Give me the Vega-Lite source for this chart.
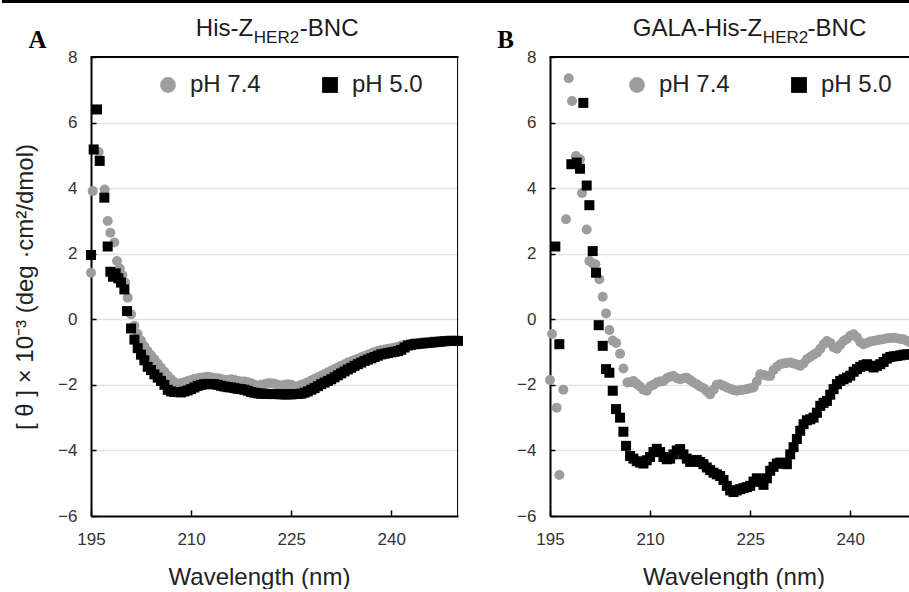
{
  "$schema": "https://vega.github.io/schema/vega-lite/v6.json",
  "background": "white",
  "padding": 0,
  "bounds": "flush",
  "spacing": 92,
  "config": {
    "view": {"stroke": null},
    "font": "Liberation Sans",
    "axis": {
      "domainColor": "black", "domainWidth": 2,
      "tickColor": "black", "tickWidth": 1.5,
      "labelFont": "Liberation Sans Narrow, Liberation Sans", "labelFontSize": 17, "labelColor": "#333333",
      "labelFlush": false,
      "titleFont": "Liberation Sans", "titleFontSize": 24, "titleFontWeight": "normal", "titleColor": "#222222"
    },
    "axisX": {"labelPadding": 21, "titlePadding": 18, "grid": false, "tickSize": -6},
    "axisY": {"labelPadding": 19, "titlePadding": 20, "gridWidth": 1.5, "tickSize": -5},
    "legend": {
      "orient": "none", "direction": "horizontal", "title": null,
      "labelFont": "Liberation Sans", "labelFontSize": 24, "labelColor": "#222222",
      "symbolSize": 250, "labelOffset": 10, "columnPadding": 57, "symbolOpacity": 1, "symbolStrokeWidth": 0
    }
  },
  "resolve": {"scale": {"color": "independent", "shape": "independent"}},
  "datasets": {
    "A": [
      {"s":"pH 7.4","w":195.0,"v":1.42},{"s":"pH 7.4","w":195.25,"v":3.91},{"s":"pH 7.4","w":196.15,"v":5.1},{"s":"pH 7.4","w":197.05,"v":3.96},{"s":"pH 7.4","w":197.5,"v":3.0},{"s":"pH 7.4","w":197.9,"v":2.64},{"s":"pH 7.4","w":198.5,"v":2.34},{"s":"pH 7.4","w":198.9,"v":1.78},{"s":"pH 7.4","w":199.3,"v":1.55},{"s":"pH 7.4","w":199.7,"v":1.35},{"s":"pH 7.4","w":200.1,"v":1.12},{"s":"pH 7.4","w":200.5,"v":0.66},
      {"s":"pH 7.4","w":201.0,"v":0.15},{"s":"pH 7.4","w":201.5,"v":-0.2},{"s":"pH 7.4","w":202.0,"v":-0.45},{"s":"pH 7.4","w":202.5,"v":-0.65},{"s":"pH 7.4","w":203.0,"v":-0.82},{"s":"pH 7.4","w":203.5,"v":-0.97},{"s":"pH 7.4","w":204.0,"v":-1.1},{"s":"pH 7.4","w":204.5,"v":-1.22},{"s":"pH 7.4","w":205.0,"v":-1.35},{"s":"pH 7.4","w":205.5,"v":-1.48},{"s":"pH 7.4","w":206.0,"v":-1.6},{"s":"pH 7.4","w":206.5,"v":-1.72},{"s":"pH 7.4","w":207.0,"v":-1.83},{"s":"pH 7.4","w":207.5,"v":-1.92},{"s":"pH 7.4","w":208.0,"v":-1.97},{"s":"pH 7.4","w":208.5,"v":-1.95},{"s":"pH 7.4","w":209.0,"v":-1.92},{"s":"pH 7.4","w":209.5,"v":-1.88},{"s":"pH 7.4","w":210.0,"v":-1.85},
      {"s":"pH 7.4","w":210.5,"v":-1.82},{"s":"pH 7.4","w":211.0,"v":-1.8},{"s":"pH 7.4","w":211.5,"v":-1.78},{"s":"pH 7.4","w":212.0,"v":-1.77},{"s":"pH 7.4","w":212.5,"v":-1.75},{"s":"pH 7.4","w":213.0,"v":-1.77},{"s":"pH 7.4","w":213.5,"v":-1.8},{"s":"pH 7.4","w":214.0,"v":-1.8},{"s":"pH 7.4","w":214.5,"v":-1.82},{"s":"pH 7.4","w":215.0,"v":-1.85},{"s":"pH 7.4","w":215.5,"v":-1.85},{"s":"pH 7.4","w":216.0,"v":-1.83},{"s":"pH 7.4","w":216.5,"v":-1.85},{"s":"pH 7.4","w":217.0,"v":-1.88},{"s":"pH 7.4","w":217.5,"v":-1.9},{"s":"pH 7.4","w":218.0,"v":-1.9},{"s":"pH 7.4","w":218.5,"v":-1.92},{"s":"pH 7.4","w":219.0,"v":-1.95},{"s":"pH 7.4","w":219.5,"v":-2.0},{"s":"pH 7.4","w":220.0,"v":-2.03},
      {"s":"pH 7.4","w":220.5,"v":-2.0},{"s":"pH 7.4","w":221.0,"v":-1.98},{"s":"pH 7.4","w":221.5,"v":-1.95},{"s":"pH 7.4","w":222.0,"v":-1.95},{"s":"pH 7.4","w":222.5,"v":-1.97},{"s":"pH 7.4","w":223.0,"v":-2.0},{"s":"pH 7.4","w":223.5,"v":-2.02},{"s":"pH 7.4","w":224.0,"v":-2.0},{"s":"pH 7.4","w":224.5,"v":-1.98},{"s":"pH 7.4","w":225.0,"v":-2.0},{"s":"pH 7.4","w":225.5,"v":-2.05},{"s":"pH 7.4","w":226.0,"v":-2.05},{"s":"pH 7.4","w":226.5,"v":-2.0},{"s":"pH 7.4","w":227.0,"v":-1.97},{"s":"pH 7.4","w":227.5,"v":-1.92},{"s":"pH 7.4","w":228.0,"v":-1.87},{"s":"pH 7.4","w":228.5,"v":-1.82},{"s":"pH 7.4","w":229.0,"v":-1.77},{"s":"pH 7.4","w":229.5,"v":-1.72},{"s":"pH 7.4","w":230.0,"v":-1.67},
      {"s":"pH 7.4","w":230.5,"v":-1.62},{"s":"pH 7.4","w":231.0,"v":-1.57},{"s":"pH 7.4","w":231.5,"v":-1.52},{"s":"pH 7.4","w":232.0,"v":-1.47},{"s":"pH 7.4","w":232.5,"v":-1.42},{"s":"pH 7.4","w":233.0,"v":-1.37},{"s":"pH 7.4","w":233.5,"v":-1.32},{"s":"pH 7.4","w":234.0,"v":-1.28},{"s":"pH 7.4","w":234.5,"v":-1.24},{"s":"pH 7.4","w":235.0,"v":-1.2},{"s":"pH 7.4","w":235.5,"v":-1.16},{"s":"pH 7.4","w":236.0,"v":-1.12},{"s":"pH 7.4","w":236.5,"v":-1.08},{"s":"pH 7.4","w":237.0,"v":-1.04},{"s":"pH 7.4","w":237.5,"v":-1.0},{"s":"pH 7.4","w":238.0,"v":-0.97},{"s":"pH 7.4","w":238.5,"v":-0.94},{"s":"pH 7.4","w":239.0,"v":-0.92},{"s":"pH 7.4","w":239.5,"v":-0.9},{"s":"pH 7.4","w":240.0,"v":-0.88},
      {"s":"pH 7.4","w":240.5,"v":-0.86},{"s":"pH 7.4","w":241.0,"v":-0.84},{"s":"pH 7.4","w":241.5,"v":-0.81},{"s":"pH 7.4","w":242.0,"v":-0.78},{"s":"pH 7.4","w":242.5,"v":-0.76},{"s":"pH 7.4","w":243.0,"v":-0.74},{"s":"pH 7.4","w":243.5,"v":-0.73},{"s":"pH 7.4","w":244.0,"v":-0.72},{"s":"pH 7.4","w":244.5,"v":-0.71},{"s":"pH 7.4","w":245.0,"v":-0.7},{"s":"pH 7.4","w":245.5,"v":-0.69},{"s":"pH 7.4","w":246.0,"v":-0.68},{"s":"pH 7.4","w":246.5,"v":-0.68},{"s":"pH 7.4","w":247.0,"v":-0.67},{"s":"pH 7.4","w":247.5,"v":-0.66},{"s":"pH 7.4","w":248.0,"v":-0.66},{"s":"pH 7.4","w":248.5,"v":-0.65},{"s":"pH 7.4","w":249.0,"v":-0.65},{"s":"pH 7.4","w":249.5,"v":-0.65},{"s":"pH 7.4","w":250.0,"v":-0.65},
      {"s":"pH 5.0","w":195.0,"v":1.96},{"s":"pH 5.0","w":195.4,"v":5.18},{"s":"pH 5.0","w":195.9,"v":6.4},{"s":"pH 5.0","w":196.3,"v":4.83},{"s":"pH 5.0","w":197.0,"v":3.71},{"s":"pH 5.0","w":197.5,"v":2.22},{"s":"pH 5.0","w":197.9,"v":1.45},{"s":"pH 5.0","w":198.3,"v":1.3},{"s":"pH 5.0","w":198.7,"v":1.4},{"s":"pH 5.0","w":199.1,"v":1.25},{"s":"pH 5.0","w":199.5,"v":1.12},{"s":"pH 5.0","w":200.0,"v":0.91},{"s":"pH 5.0","w":200.4,"v":0.25},
      {"s":"pH 5.0","w":201.0,"v":-0.28},{"s":"pH 5.0","w":201.5,"v":-0.62},{"s":"pH 5.0","w":202.0,"v":-0.88},{"s":"pH 5.0","w":202.5,"v":-1.08},{"s":"pH 5.0","w":203.0,"v":-1.25},{"s":"pH 5.0","w":203.5,"v":-1.45},{"s":"pH 5.0","w":204.0,"v":-1.55},{"s":"pH 5.0","w":204.5,"v":-1.68},{"s":"pH 5.0","w":205.0,"v":-1.78},{"s":"pH 5.0","w":205.5,"v":-1.88},{"s":"pH 5.0","w":206.0,"v":-2.0},{"s":"pH 5.0","w":206.5,"v":-2.15},{"s":"pH 5.0","w":207.0,"v":-2.2},{"s":"pH 5.0","w":207.5,"v":-2.22},{"s":"pH 5.0","w":208.0,"v":-2.22},{"s":"pH 5.0","w":208.5,"v":-2.23},{"s":"pH 5.0","w":209.0,"v":-2.2},{"s":"pH 5.0","w":209.5,"v":-2.17},{"s":"pH 5.0","w":210.0,"v":-2.13},
      {"s":"pH 5.0","w":210.5,"v":-2.08},{"s":"pH 5.0","w":211.0,"v":-2.03},{"s":"pH 5.0","w":211.5,"v":-2.0},{"s":"pH 5.0","w":212.0,"v":-1.98},{"s":"pH 5.0","w":212.5,"v":-1.97},{"s":"pH 5.0","w":213.0,"v":-1.98},{"s":"pH 5.0","w":213.5,"v":-1.98},{"s":"pH 5.0","w":214.0,"v":-2.0},{"s":"pH 5.0","w":214.5,"v":-2.03},{"s":"pH 5.0","w":215.0,"v":-2.05},{"s":"pH 5.0","w":215.5,"v":-2.07},{"s":"pH 5.0","w":216.0,"v":-2.08},{"s":"pH 5.0","w":216.5,"v":-2.1},{"s":"pH 5.0","w":217.0,"v":-2.12},{"s":"pH 5.0","w":217.5,"v":-2.13},{"s":"pH 5.0","w":218.0,"v":-2.15},{"s":"pH 5.0","w":218.5,"v":-2.18},{"s":"pH 5.0","w":219.0,"v":-2.22},{"s":"pH 5.0","w":219.5,"v":-2.24},{"s":"pH 5.0","w":220.0,"v":-2.26},
      {"s":"pH 5.0","w":220.5,"v":-2.27},{"s":"pH 5.0","w":221.0,"v":-2.27},{"s":"pH 5.0","w":221.5,"v":-2.28},{"s":"pH 5.0","w":222.0,"v":-2.28},{"s":"pH 5.0","w":222.5,"v":-2.28},{"s":"pH 5.0","w":223.0,"v":-2.28},{"s":"pH 5.0","w":223.5,"v":-2.29},{"s":"pH 5.0","w":224.0,"v":-2.29},{"s":"pH 5.0","w":224.5,"v":-2.29},{"s":"pH 5.0","w":225.0,"v":-2.29},{"s":"pH 5.0","w":225.5,"v":-2.28},{"s":"pH 5.0","w":226.0,"v":-2.28},{"s":"pH 5.0","w":226.5,"v":-2.27},{"s":"pH 5.0","w":227.0,"v":-2.24},{"s":"pH 5.0","w":227.5,"v":-2.2},{"s":"pH 5.0","w":228.0,"v":-2.15},{"s":"pH 5.0","w":228.5,"v":-2.1},{"s":"pH 5.0","w":229.0,"v":-2.04},{"s":"pH 5.0","w":229.5,"v":-1.98},{"s":"pH 5.0","w":230.0,"v":-1.93},
      {"s":"pH 5.0","w":230.5,"v":-1.88},{"s":"pH 5.0","w":231.0,"v":-1.83},{"s":"pH 5.0","w":231.5,"v":-1.77},{"s":"pH 5.0","w":232.0,"v":-1.71},{"s":"pH 5.0","w":232.5,"v":-1.65},{"s":"pH 5.0","w":233.0,"v":-1.59},{"s":"pH 5.0","w":233.5,"v":-1.53},{"s":"pH 5.0","w":234.0,"v":-1.48},{"s":"pH 5.0","w":234.5,"v":-1.42},{"s":"pH 5.0","w":235.0,"v":-1.37},{"s":"pH 5.0","w":235.5,"v":-1.32},{"s":"pH 5.0","w":236.0,"v":-1.27},{"s":"pH 5.0","w":236.5,"v":-1.23},{"s":"pH 5.0","w":237.0,"v":-1.19},{"s":"pH 5.0","w":237.5,"v":-1.15},{"s":"pH 5.0","w":238.0,"v":-1.11},{"s":"pH 5.0","w":238.5,"v":-1.07},{"s":"pH 5.0","w":239.0,"v":-1.05},{"s":"pH 5.0","w":239.5,"v":-1.03},{"s":"pH 5.0","w":240.0,"v":-1.01},
      {"s":"pH 5.0","w":240.5,"v":-0.99},{"s":"pH 5.0","w":241.0,"v":-0.97},{"s":"pH 5.0","w":241.5,"v":-0.93},{"s":"pH 5.0","w":242.0,"v":-0.86},{"s":"pH 5.0","w":242.5,"v":-0.8},{"s":"pH 5.0","w":243.0,"v":-0.78},{"s":"pH 5.0","w":243.5,"v":-0.76},{"s":"pH 5.0","w":244.0,"v":-0.75},{"s":"pH 5.0","w":244.5,"v":-0.74},{"s":"pH 5.0","w":245.0,"v":-0.73},{"s":"pH 5.0","w":245.5,"v":-0.72},{"s":"pH 5.0","w":246.0,"v":-0.71},{"s":"pH 5.0","w":246.5,"v":-0.7},{"s":"pH 5.0","w":247.0,"v":-0.69},{"s":"pH 5.0","w":247.5,"v":-0.68},{"s":"pH 5.0","w":248.0,"v":-0.67},{"s":"pH 5.0","w":248.5,"v":-0.66},{"s":"pH 5.0","w":249.0,"v":-0.66},{"s":"pH 5.0","w":249.5,"v":-0.66},{"s":"pH 5.0","w":250.0,"v":-0.66}
    ],
    "B": [
      {"s":"pH 7.4","w":195.0,"v":-1.85},{"s":"pH 7.4","w":195.3,"v":-0.45},{"s":"pH 7.4","w":196.0,"v":-2.7},{"s":"pH 7.4","w":196.4,"v":-4.75},{"s":"pH 7.4","w":197.0,"v":-2.15},{"s":"pH 7.4","w":197.4,"v":3.05},{"s":"pH 7.4","w":197.8,"v":7.35},{"s":"pH 7.4","w":198.3,"v":6.66},{"s":"pH 7.4","w":198.9,"v":4.98},{"s":"pH 7.4","w":199.5,"v":4.88},{"s":"pH 7.4","w":199.8,"v":3.85},{"s":"pH 7.4","w":200.5,"v":2.74},{"s":"pH 7.4","w":200.9,"v":1.78},{"s":"pH 7.4","w":201.4,"v":1.7},{"s":"pH 7.4","w":201.8,"v":1.68},{"s":"pH 7.4","w":202.4,"v":1.22},{"s":"pH 7.4","w":202.9,"v":0.69},{"s":"pH 7.4","w":203.4,"v":0.18},{"s":"pH 7.4","w":203.9,"v":-0.33},{"s":"pH 7.4","w":204.4,"v":-0.65},{"s":"pH 7.4","w":204.9,"v":-0.72},{"s":"pH 7.4","w":205.5,"v":-1.05},{"s":"pH 7.4","w":206.0,"v":-1.5},{"s":"pH 7.4","w":206.6,"v":-1.93},
      {"s":"pH 7.4","w":207.0,"v":-1.92},{"s":"pH 7.4","w":207.5,"v":-1.88},{"s":"pH 7.4","w":208.0,"v":-1.97},{"s":"pH 7.4","w":208.5,"v":-2.05},{"s":"pH 7.4","w":209.0,"v":-2.15},{"s":"pH 7.4","w":209.5,"v":-2.18},{"s":"pH 7.4","w":210.0,"v":-2.05},{"s":"pH 7.4","w":210.5,"v":-2.0},{"s":"pH 7.4","w":211.0,"v":-1.93},{"s":"pH 7.4","w":211.5,"v":-1.9},{"s":"pH 7.4","w":212.0,"v":-1.88},{"s":"pH 7.4","w":212.5,"v":-1.8},{"s":"pH 7.4","w":213.0,"v":-1.75},{"s":"pH 7.4","w":213.5,"v":-1.73},{"s":"pH 7.4","w":214.0,"v":-1.8},{"s":"pH 7.4","w":214.5,"v":-1.83},{"s":"pH 7.4","w":215.0,"v":-1.8},{"s":"pH 7.4","w":215.5,"v":-1.78},{"s":"pH 7.4","w":216.0,"v":-1.85},{"s":"pH 7.4","w":216.5,"v":-1.93},{"s":"pH 7.4","w":217.0,"v":-1.98},{"s":"pH 7.4","w":217.5,"v":-2.05},{"s":"pH 7.4","w":218.0,"v":-2.1},{"s":"pH 7.4","w":218.5,"v":-2.2},{"s":"pH 7.4","w":219.0,"v":-2.29},{"s":"pH 7.4","w":219.5,"v":-2.15},{"s":"pH 7.4","w":220.0,"v":-2.0},
      {"s":"pH 7.4","w":220.5,"v":-1.98},{"s":"pH 7.4","w":221.0,"v":-2.03},{"s":"pH 7.4","w":221.5,"v":-2.08},{"s":"pH 7.4","w":222.0,"v":-2.12},{"s":"pH 7.4","w":222.5,"v":-2.16},{"s":"pH 7.4","w":223.0,"v":-2.18},{"s":"pH 7.4","w":223.5,"v":-2.16},{"s":"pH 7.4","w":224.0,"v":-2.15},{"s":"pH 7.4","w":224.5,"v":-2.13},{"s":"pH 7.4","w":225.0,"v":-2.1},{"s":"pH 7.4","w":225.5,"v":-2.08},{"s":"pH 7.4","w":226.0,"v":-1.9},{"s":"pH 7.4","w":226.5,"v":-1.68},{"s":"pH 7.4","w":227.0,"v":-1.7},{"s":"pH 7.4","w":227.5,"v":-1.72},{"s":"pH 7.4","w":228.0,"v":-1.73},{"s":"pH 7.4","w":228.5,"v":-1.55},{"s":"pH 7.4","w":229.0,"v":-1.45},{"s":"pH 7.4","w":229.5,"v":-1.37},{"s":"pH 7.4","w":230.0,"v":-1.35},
      {"s":"pH 7.4","w":230.5,"v":-1.33},{"s":"pH 7.4","w":231.0,"v":-1.32},{"s":"pH 7.4","w":231.5,"v":-1.35},{"s":"pH 7.4","w":232.0,"v":-1.38},{"s":"pH 7.4","w":232.5,"v":-1.42},{"s":"pH 7.4","w":233.0,"v":-1.35},{"s":"pH 7.4","w":233.5,"v":-1.22},{"s":"pH 7.4","w":234.0,"v":-1.15},{"s":"pH 7.4","w":234.5,"v":-1.08},{"s":"pH 7.4","w":235.0,"v":-1.02},{"s":"pH 7.4","w":235.5,"v":-0.9},{"s":"pH 7.4","w":236.0,"v":-0.76},{"s":"pH 7.4","w":236.5,"v":-0.66},{"s":"pH 7.4","w":237.0,"v":-0.72},{"s":"pH 7.4","w":237.5,"v":-0.85},{"s":"pH 7.4","w":238.0,"v":-0.9},{"s":"pH 7.4","w":238.5,"v":-0.78},{"s":"pH 7.4","w":239.0,"v":-0.66},{"s":"pH 7.4","w":239.5,"v":-0.6},{"s":"pH 7.4","w":240.0,"v":-0.5},
      {"s":"pH 7.4","w":240.5,"v":-0.46},{"s":"pH 7.4","w":241.0,"v":-0.55},{"s":"pH 7.4","w":241.5,"v":-0.7},{"s":"pH 7.4","w":242.0,"v":-0.76},{"s":"pH 7.4","w":242.5,"v":-0.72},{"s":"pH 7.4","w":243.0,"v":-0.68},{"s":"pH 7.4","w":243.5,"v":-0.66},{"s":"pH 7.4","w":244.0,"v":-0.64},{"s":"pH 7.4","w":244.5,"v":-0.62},{"s":"pH 7.4","w":245.0,"v":-0.61},{"s":"pH 7.4","w":245.5,"v":-0.58},{"s":"pH 7.4","w":246.0,"v":-0.57},{"s":"pH 7.4","w":246.5,"v":-0.56},{"s":"pH 7.4","w":247.0,"v":-0.58},{"s":"pH 7.4","w":247.5,"v":-0.6},{"s":"pH 7.4","w":248.0,"v":-0.61},{"s":"pH 7.4","w":248.5,"v":-0.66},{"s":"pH 7.4","w":249.0,"v":-0.71},{"s":"pH 7.4","w":249.5,"v":-0.74},{"s":"pH 7.4","w":250.0,"v":-0.76},
      {"s":"pH 5.0","w":195.8,"v":2.22},{"s":"pH 5.0","w":196.4,"v":-0.76},{"s":"pH 5.0","w":198.2,"v":4.73},{"s":"pH 5.0","w":199.0,"v":4.78},{"s":"pH 5.0","w":199.5,"v":4.59},{"s":"pH 5.0","w":200.0,"v":6.6},{"s":"pH 5.0","w":200.5,"v":4.08},{"s":"pH 5.0","w":200.9,"v":3.48},{"s":"pH 5.0","w":201.4,"v":2.08},{"s":"pH 5.0","w":201.9,"v":1.42},{"s":"pH 5.0","w":202.3,"v":-0.18},{"s":"pH 5.0","w":202.9,"v":-0.81},{"s":"pH 5.0","w":203.4,"v":-1.52},{"s":"pH 5.0","w":203.9,"v":-1.63},{"s":"pH 5.0","w":204.4,"v":-2.18},{"s":"pH 5.0","w":204.9,"v":-2.74},{"s":"pH 5.0","w":205.5,"v":-3.0},{"s":"pH 5.0","w":206.0,"v":-3.43},{"s":"pH 5.0","w":206.4,"v":-3.86},{"s":"pH 5.0","w":207.0,"v":-4.17},{"s":"pH 5.0","w":207.5,"v":-4.25},{"s":"pH 5.0","w":208.0,"v":-4.33},{"s":"pH 5.0","w":208.5,"v":-4.37},{"s":"pH 5.0","w":209.0,"v":-4.4},{"s":"pH 5.0","w":209.5,"v":-4.3},{"s":"pH 5.0","w":210.0,"v":-4.2},
      {"s":"pH 5.0","w":210.5,"v":-4.05},{"s":"pH 5.0","w":211.0,"v":-3.95},{"s":"pH 5.0","w":211.5,"v":-4.05},{"s":"pH 5.0","w":212.0,"v":-4.2},{"s":"pH 5.0","w":212.5,"v":-4.27},{"s":"pH 5.0","w":213.0,"v":-4.25},{"s":"pH 5.0","w":213.5,"v":-4.12},{"s":"pH 5.0","w":214.0,"v":-4.0},{"s":"pH 5.0","w":214.5,"v":-3.96},{"s":"pH 5.0","w":215.0,"v":-4.12},{"s":"pH 5.0","w":215.5,"v":-4.25},{"s":"pH 5.0","w":216.0,"v":-4.35},{"s":"pH 5.0","w":216.5,"v":-4.33},{"s":"pH 5.0","w":217.0,"v":-4.29},{"s":"pH 5.0","w":217.5,"v":-4.35},{"s":"pH 5.0","w":218.0,"v":-4.42},{"s":"pH 5.0","w":218.5,"v":-4.52},{"s":"pH 5.0","w":219.0,"v":-4.6},{"s":"pH 5.0","w":219.5,"v":-4.68},{"s":"pH 5.0","w":220.0,"v":-4.73},
      {"s":"pH 5.0","w":220.5,"v":-4.78},{"s":"pH 5.0","w":221.0,"v":-4.9},{"s":"pH 5.0","w":221.5,"v":-5.08},{"s":"pH 5.0","w":222.0,"v":-5.22},{"s":"pH 5.0","w":222.5,"v":-5.27},{"s":"pH 5.0","w":223.0,"v":-5.22},{"s":"pH 5.0","w":223.5,"v":-5.18},{"s":"pH 5.0","w":224.0,"v":-5.15},{"s":"pH 5.0","w":224.5,"v":-5.12},{"s":"pH 5.0","w":225.0,"v":-5.08},{"s":"pH 5.0","w":225.5,"v":-4.95},{"s":"pH 5.0","w":226.0,"v":-4.85},{"s":"pH 5.0","w":226.5,"v":-4.95},{"s":"pH 5.0","w":227.0,"v":-5.05},{"s":"pH 5.0","w":227.5,"v":-4.85},{"s":"pH 5.0","w":228.0,"v":-4.62},{"s":"pH 5.0","w":228.5,"v":-4.5},{"s":"pH 5.0","w":229.0,"v":-4.4},{"s":"pH 5.0","w":229.5,"v":-4.37},{"s":"pH 5.0","w":230.0,"v":-4.4},
      {"s":"pH 5.0","w":230.5,"v":-4.42},{"s":"pH 5.0","w":231.0,"v":-4.12},{"s":"pH 5.0","w":231.5,"v":-3.9},{"s":"pH 5.0","w":232.0,"v":-3.65},{"s":"pH 5.0","w":232.5,"v":-3.4},{"s":"pH 5.0","w":233.0,"v":-3.2},{"s":"pH 5.0","w":233.5,"v":-3.08},{"s":"pH 5.0","w":234.0,"v":-3.05},{"s":"pH 5.0","w":234.5,"v":-3.0},{"s":"pH 5.0","w":235.0,"v":-2.85},{"s":"pH 5.0","w":235.5,"v":-2.64},{"s":"pH 5.0","w":236.0,"v":-2.55},{"s":"pH 5.0","w":236.5,"v":-2.49},{"s":"pH 5.0","w":237.0,"v":-2.3},{"s":"pH 5.0","w":237.5,"v":-2.13},{"s":"pH 5.0","w":238.0,"v":-1.98},{"s":"pH 5.0","w":238.5,"v":-1.88},{"s":"pH 5.0","w":239.0,"v":-1.83},{"s":"pH 5.0","w":239.5,"v":-1.78},{"s":"pH 5.0","w":240.0,"v":-1.72},
      {"s":"pH 5.0","w":240.5,"v":-1.6},{"s":"pH 5.0","w":241.0,"v":-1.52},{"s":"pH 5.0","w":241.5,"v":-1.45},{"s":"pH 5.0","w":242.0,"v":-1.4},{"s":"pH 5.0","w":242.5,"v":-1.37},{"s":"pH 5.0","w":243.0,"v":-1.42},{"s":"pH 5.0","w":243.5,"v":-1.47},{"s":"pH 5.0","w":244.0,"v":-1.42},{"s":"pH 5.0","w":244.5,"v":-1.37},{"s":"pH 5.0","w":245.0,"v":-1.3},{"s":"pH 5.0","w":245.5,"v":-1.2},{"s":"pH 5.0","w":246.0,"v":-1.15},{"s":"pH 5.0","w":246.5,"v":-1.13},{"s":"pH 5.0","w":247.0,"v":-1.12},{"s":"pH 5.0","w":247.5,"v":-1.1},{"s":"pH 5.0","w":248.0,"v":-1.08},{"s":"pH 5.0","w":248.5,"v":-1.07},{"s":"pH 5.0","w":249.0,"v":-1.07},{"s":"pH 5.0","w":249.5,"v":-1.05},{"s":"pH 5.0","w":250.0,"v":-1.05}
    ]
  },
  "hconcat": [
    {
      "width": 367, "height": 459,
      "layer": [
        {
          "data": {"name": "A"},
          "mark": {"type": "point", "filled": true, "opacity": 1, "size": 100, "clip": false},
          "encoding": {
            "x": {"field": "w", "type": "quantitative", "scale": {"domain": [195, 250], "nice": false, "zero": false},
                  "axis": {"values": [195, 210, 225, 240], "title": "Wavelength (nm)", "titleX": 168}},
            "y": {"field": "v", "type": "quantitative", "scale": {"domain": [-6, 8], "nice": false, "zero": false},
                  "axis": {"values": [-6, -4, -2, 0, 2, 4, 6, 8], "title": "[ θ ] × 10⁻³ (deg ·cm²/dmol)",
                           "gridColor": {"condition": {"test": "datum.value === 8 || datum.value === -6", "value": "transparent"}, "value": "#e2e2e2"}}},
            "color": {"field": "s", "type": "nominal", "scale": {"domain": ["pH 7.4", "pH 5.0"], "range": ["#9d9d9d", "#000000"]},
                      "legend": {"legendX": 65, "legendY": 16}},
            "shape": {"field": "s", "type": "nominal", "scale": {"domain": ["pH 7.4", "pH 5.0"], "range": ["circle", "square"]},
                      "legend": {"legendX": 65, "legendY": 16}}
          }
        },
        {
          "data": {"values": [{"t": "A"}]},
          "mark": {"type": "text", "font": "Liberation Serif", "fontWeight": "bold", "fontSize": 25, "align": "center", "baseline": "alphabetic", "color": "black"},
          "encoding": {"x": {"datum": 187.0}, "y": {"datum": 8.27}, "text": {"field": "t"}}
        },
        {
          "data": {"values": [{"t": "His-Z"}]},
          "mark": {"type": "text", "fontSize": 24, "align": "right", "baseline": "alphabetic", "color": "#1a1a1a"},
          "encoding": {"x": {"datum": 219.3}, "y": {"datum": 8.64}, "text": {"field": "t"}}
        },
        {
          "data": {"values": [{"t": "HER2"}]},
          "mark": {"type": "text", "fontSize": 17, "align": "left", "baseline": "alphabetic", "color": "#1a1a1a"},
          "encoding": {"x": {"datum": 219.4}, "y": {"datum": 8.43}, "text": {"field": "t"}}
        },
        {
          "data": {"values": [{"t": "-BNC"}]},
          "mark": {"type": "text", "fontSize": 24, "align": "left", "baseline": "alphabetic", "color": "#1a1a1a"},
          "encoding": {"x": {"datum": 226.3}, "y": {"datum": 8.64}, "text": {"field": "t"}}
        },
        {
          "data": {"values": [{"edge": "top"}]},
          "mark": {"type": "bar", "color": "black", "clip": false},
          "encoding": {"x": {"datum": 194.93}, "x2": {"datum": 250.07}, "y": {"datum": 7.97}, "y2": {"datum": 8.03}}
        },
        {
          "data": {"values": [{"edge": "right"}]},
          "mark": {"type": "bar", "color": "black", "clip": false},
          "encoding": {"x": {"datum": 249.86}, "x2": {"datum": 250.01}, "y": {"datum": -6.03}, "y2": {"datum": 8.03}}
        },
        {
          "data": {"values": [{}]},
          "mark": {"type": "rule", "strokeWidth": 3, "color": "black", "clip": false},
          "encoding": {"x": {"datum": 181.66}, "x2": {"datum": 250}, "y": {"datum": 9.69}}
        }
      ]
    },
    {
      "width": 367, "height": 459,
      "layer": [
        {
          "data": {"name": "B"},
          "mark": {"type": "point", "filled": true, "opacity": 1, "size": 100, "clip": false},
          "encoding": {
            "x": {"field": "w", "type": "quantitative", "scale": {"domain": [195, 250], "nice": false, "zero": false},
                  "axis": {"values": [195, 210, 225, 240], "title": "Wavelength (nm)"}},
            "y": {"field": "v", "type": "quantitative", "scale": {"domain": [-6, 8], "nice": false, "zero": false},
                  "axis": {"values": [-6, -4, -2, 0, 2, 4, 6, 8], "title": null,
                           "gridColor": {"condition": {"test": "datum.value === 8 || datum.value === -6", "value": "transparent"}, "value": "#e2e2e2"}}},
            "color": {"field": "s", "type": "nominal", "scale": {"domain": ["pH 7.4", "pH 5.0"], "range": ["#9d9d9d", "#000000"]},
                      "legend": {"legendX": 75, "legendY": 16}},
            "shape": {"field": "s", "type": "nominal", "scale": {"domain": ["pH 7.4", "pH 5.0"], "range": ["circle", "square"]},
                      "legend": {"legendX": 75, "legendY": 16}}
          }
        },
        {
          "data": {"values": [{"t": "B"}]},
          "mark": {"type": "text", "font": "Liberation Serif", "fontWeight": "bold", "fontSize": 25, "align": "center", "baseline": "alphabetic", "color": "black"},
          "encoding": {"x": {"datum": 188.36}, "y": {"datum": 8.27}, "text": {"field": "t"}}
        },
        {
          "data": {"values": [{"t": "GALA-His-Z"}]},
          "mark": {"type": "text", "fontSize": 24, "align": "right", "baseline": "alphabetic", "color": "#1a1a1a"},
          "encoding": {"x": {"datum": 226.8}, "y": {"datum": 8.64}, "text": {"field": "t"}}
        },
        {
          "data": {"values": [{"t": "HER2"}]},
          "mark": {"type": "text", "fontSize": 17, "align": "left", "baseline": "alphabetic", "color": "#1a1a1a"},
          "encoding": {"x": {"datum": 226.9}, "y": {"datum": 8.43}, "text": {"field": "t"}}
        },
        {
          "data": {"values": [{"t": "-BNC"}]},
          "mark": {"type": "text", "fontSize": 24, "align": "left", "baseline": "alphabetic", "color": "#1a1a1a"},
          "encoding": {"x": {"datum": 233.6}, "y": {"datum": 8.64}, "text": {"field": "t"}}
        },
        {
          "data": {"values": [{"edge": "top"}]},
          "mark": {"type": "bar", "color": "black", "clip": false},
          "encoding": {"x": {"datum": 194.93}, "x2": {"datum": 250.07}, "y": {"datum": 7.97}, "y2": {"datum": 8.03}}
        },
        {
          "data": {"values": [{}]},
          "mark": {"type": "rule", "strokeWidth": 3, "color": "black", "clip": false},
          "encoding": {"x": {"datum": 181.21}, "x2": {"datum": 250}, "y": {"datum": 9.69}}
        }
      ]
    }
  ]
}
